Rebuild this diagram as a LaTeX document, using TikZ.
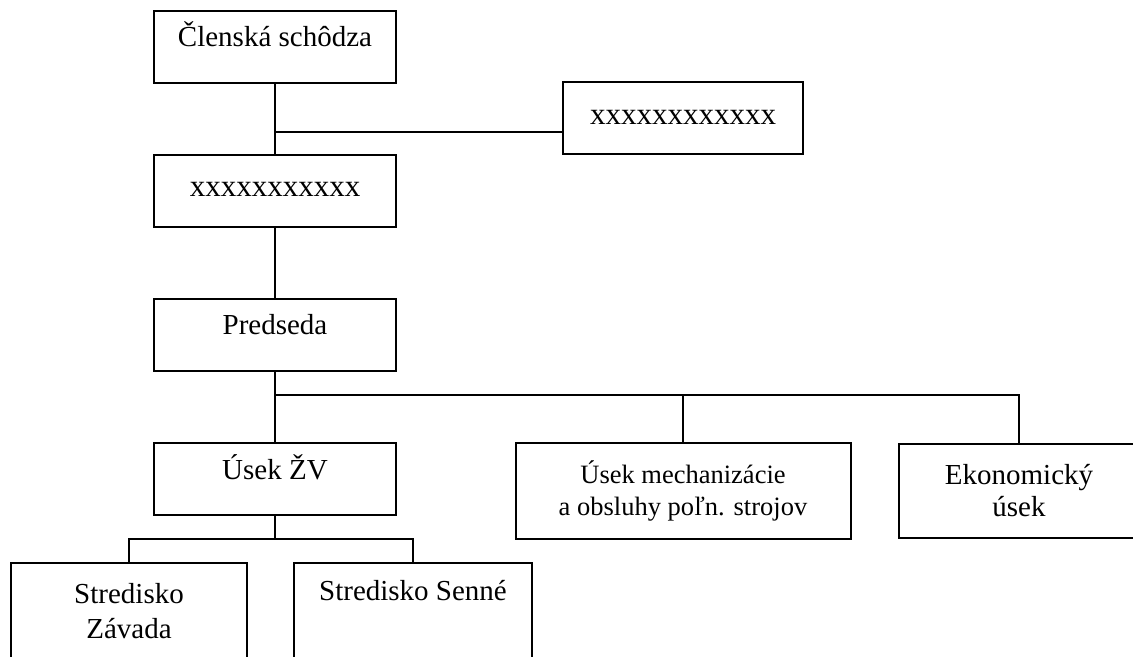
\documentclass[tikz,border=0pt]{standalone}
\usepackage{fontspec}
\setmainfont{Liberation Serif}
\usetikzlibrary{positioning}

\begin{document}
\begin{tikzpicture}[node distance =72pt and 204pt ,on grid ,
line width=0.8pt ,
box/.style ={draw ,line width=1pt ,minimum width=121pt ,inner ysep=0pt ,
text height=18pt ,text depth=18pt ,font=\fontsize{14.5}{17.5}\selectfont },
xbox/.style ={box ,text height=21pt ,text depth=15pt ,
font=\fontsize{15.5}{18}\selectfont },
bigbox/.style ={draw ,line width=1pt ,align=center ,minimum height=48pt ,
font=\fontsize{14.5}{17.5}\selectfont }]
\useasboundingbox (0,0) rectangle (566.5pt,-328.5pt);
\clip (0,0) rectangle (566.5pt,-328.5pt);
\node[box] (S) at (137.5pt,-23.5pt) {Členská schôdza};
\node[xbox] (X) [below =of S] {xxxxxxxxxxx};
\node[xbox,minimum width=120pt] (R) [below right=35.75pt and 204pt of S] {xxxxxxxxxxxx};
\coordinate[below=42.5pt of S] (J1);
\draw (S) -- (X);
\draw (J1) -- (J1 -| R.west);
\node[box] (P) [below =of X] {Predseda};
\draw (X) -- (P);
\node[box] (U1) [below =of P] {Úsek ŽV};
\node[bigbox,minimum width=167.5pt,font=\fontsize{13.25}{16}\selectfont] (U2)
  [below right=6pt and 204pt of U1] {Úsek mechanizácie\\a obsluhy poľn. strojov};
\node[bigbox,minimum width=120pt,minimum height=47pt,font=\fontsize{14.5}{16}\selectfont] (U3)
  [right=168pt of U2] {Ekonomický\\úsek};
\coordinate[below=30pt of P] (J2);
\draw (P) -- (U1);
\draw (J2) -| (U3);
\draw (J2 -| U2) -- (U2);
\node[bigbox,minimum width=118pt] (C1) [below left=66pt and 73pt of U1] {Stredisko\\Závada};
\node[box,minimum width=119pt,text height=18.5pt,text depth=29.5pt] (C2)
  [right=142pt of C1] {Stredisko Senné};
\coordinate[below=30pt of U1] (J3);
\draw (U1) -- (J3);
\draw (C1) |- (J3) -| (C2);
\end{tikzpicture}
\end{document}
